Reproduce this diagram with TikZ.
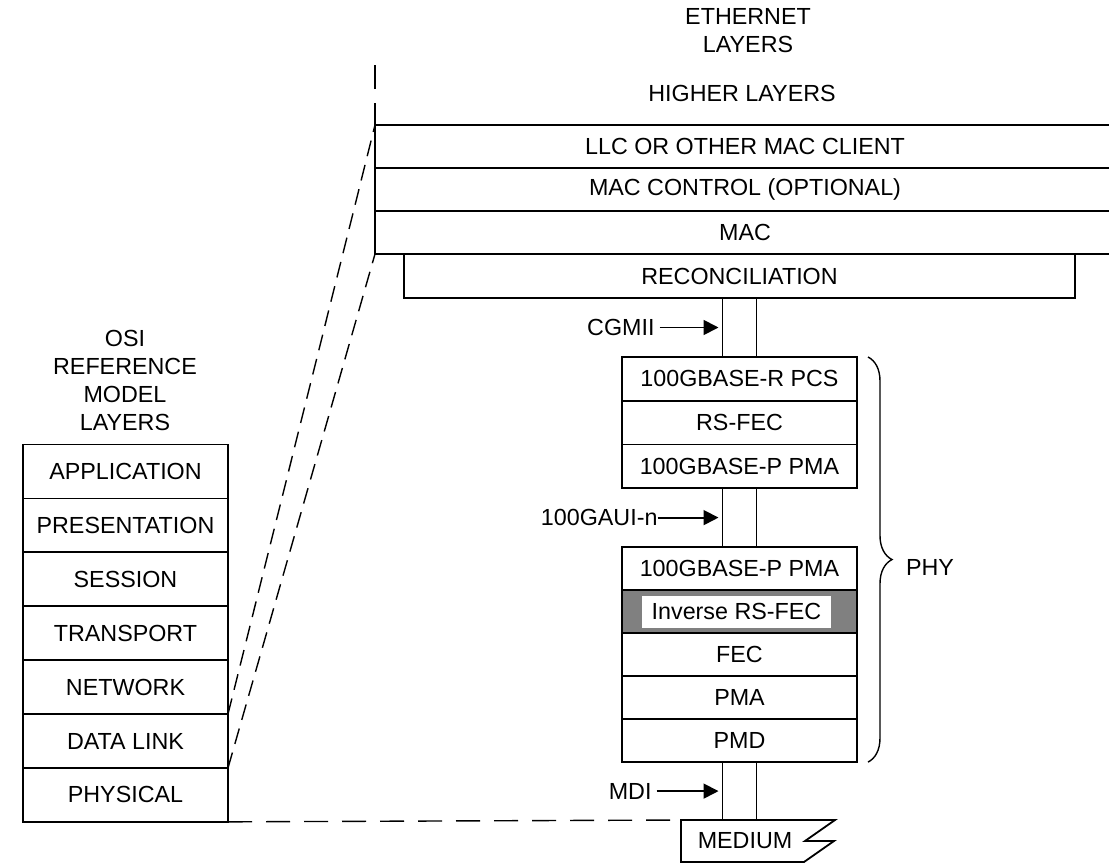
\documentclass[tikz,border=0pt]{standalone}
\usepackage{fontspec}
\setmainfont{Liberation Sans}
\usepackage{tikz}
\usetikzlibrary{positioning, arrows.meta, decorations.pathreplacing}

\begin{document}
\begin{tikzpicture}[
    x=1pt, y=-1pt,
    every node/.style={rectangle, align=center, inner sep=0pt, outer sep=0pt},
    layer/.style={draw, line width=1.8pt, minimum height=43pt},
    osilayer/.style={layer, minimum width=205pt, minimum height=53.9pt},
    ethlayer/.style={layer, minimum width=740pt},
    phylayer/.style={layer, minimum width=235pt},
    bus/.style={minimum width=34pt},
    arrow/.style={-{Triangle[length=15pt, width=15pt]}, line width=1.8pt, shorten >=4pt},
    link/.style={dash pattern=on 16pt off 9pt, line width=1.4pt}
]
\fontsize{23.3}{28}\selectfont
\useasboundingbox (0,0) rectangle (1109,865);
% OSI side
\node (OSI) at (125,380) {OSI\\REFERENCE\\MODEL\\LAYERS};
\node (APPLICATION) [osilayer] at (125.5,471.5) {APPLICATION};
\node (PRESENTATION) [osilayer, below=0pt of APPLICATION] {PRESENTATION};
\node (SESSION) [osilayer, below=0pt of PRESENTATION] {SESSION};
\node (TRANSPORT) [osilayer, below=0pt of SESSION] {TRANSPORT};
\node (NETWORK) [osilayer, below=0pt of TRANSPORT] {NETWORK};
\node (DATALINK) [osilayer, below=0pt of NETWORK] {DATA LINK};
\node (PHYSICAL) [osilayer, below=0pt of DATALINK] {PHYSICAL};
% Ethernet side
\node (ETHERNET) at (748,31) {ETHERNET\\LAYERS};
\node (HIGHER) at (742,93) {HIGHER LAYERS};
\node (LLC) [ethlayer] at (745,146.5) {LLC OR OTHER MAC CLIENT};
\node (MACCTRL) [ethlayer, below=0pt of LLC] {MAC CONTROL (OPTIONAL)};
\node (MAC) [ethlayer, below=0pt of MACCTRL] {MAC};
\node (RECON) [layer, minimum width=671pt, minimum height=44pt, below right=0pt and 29pt of MAC.south west] {RECONCILIATION};
\node (CGMIIBUS) [bus, minimum height=59pt, below=0pt of RECON] {};
\node (PCS) [phylayer, minimum height=43.7pt, below=0pt of CGMIIBUS] {100GBASE-R PCS};
\node (RSFEC) [phylayer, minimum height=43.7pt, below=0pt of PCS] {RS-FEC};
\node (PMAUP) [phylayer, minimum height=43.7pt, below=0pt of RSFEC] {100GBASE-P PMA};
\node (GAUIBUS) [bus, minimum height=59pt, below=0pt of PMAUP] {};
\node (PMALOW) [phylayer, below=0pt of GAUIBUS] {100GBASE-P PMA};
\node (INVFEC) [phylayer, fill=gray, below=0pt of PMALOW] {};
\node (INVTEXT) [fill=white, minimum width=189pt, minimum height=32pt] at ([xshift=-3pt]INVFEC.center) {Inverse RS-FEC};
\node (FEC) [phylayer, below=0pt of INVFEC] {FEC};
\node (PMA) [phylayer, below=0pt of FEC] {PMA};
\node (PMD) [phylayer, below=0pt of PMA] {PMD};
\node (MDIBUS) [bus, minimum height=58pt, below=0pt of PMD] {};
\node (MEDIUM) at (745,841) {MEDIUM};
\coordinate (MEDIUMTL) at (681,820);
\draw [line width=1.8pt] (MEDIUMTL) -- (835,820) -- (805,841) -- (834,841) -- (804,862) -- (681,862) -- cycle;
% interfaces
\node (CGMII) [left=68pt of CGMIIBUS] {CGMII};
\node (GAUI) [left=65pt of GAUIBUS] {100GAUI-n};
\node (MDI) [left=71pt of MDIBUS] {MDI};
\foreach \bus in {CGMIIBUS, GAUIBUS, MDIBUS}
    \draw [line width=1.8pt] (\bus.north west) -- (\bus.south west) (\bus.north east) -- (\bus.south east);
\draw [arrow, shorten <=5pt] (CGMII.east) -- (CGMIIBUS.west);
\draw [arrow] (GAUI.east) -- (GAUIBUS.west);
\draw [arrow, shorten <=5pt] (MDI.east) -- (MDIBUS.west);
% open top of the Ethernet stack
\draw [line width=1.8pt] (LLC.north west) -- ++(0,-22);
\draw [line width=1.8pt] ([yshift=36pt]LLC.north west) -- ++(0,-24);
% mapping lines
\draw [link] (DATALINK.north east) -- (LLC.north west);
\draw [link] (DATALINK.south east) -- (MAC.south west);
\draw [link, dash pattern=on 24pt off 14pt] (PHYSICAL.south east) -- (MEDIUMTL);
% PHY brace
\draw [decorate, decoration={brace, amplitude=24pt}, line width=1.4pt] ([xshift=11pt]PCS.north east) -- ([xshift=11pt]PMD.south east) node (PHY) [pos=0.52, right=38pt] {PHY};

\end{tikzpicture}
\end{document}
